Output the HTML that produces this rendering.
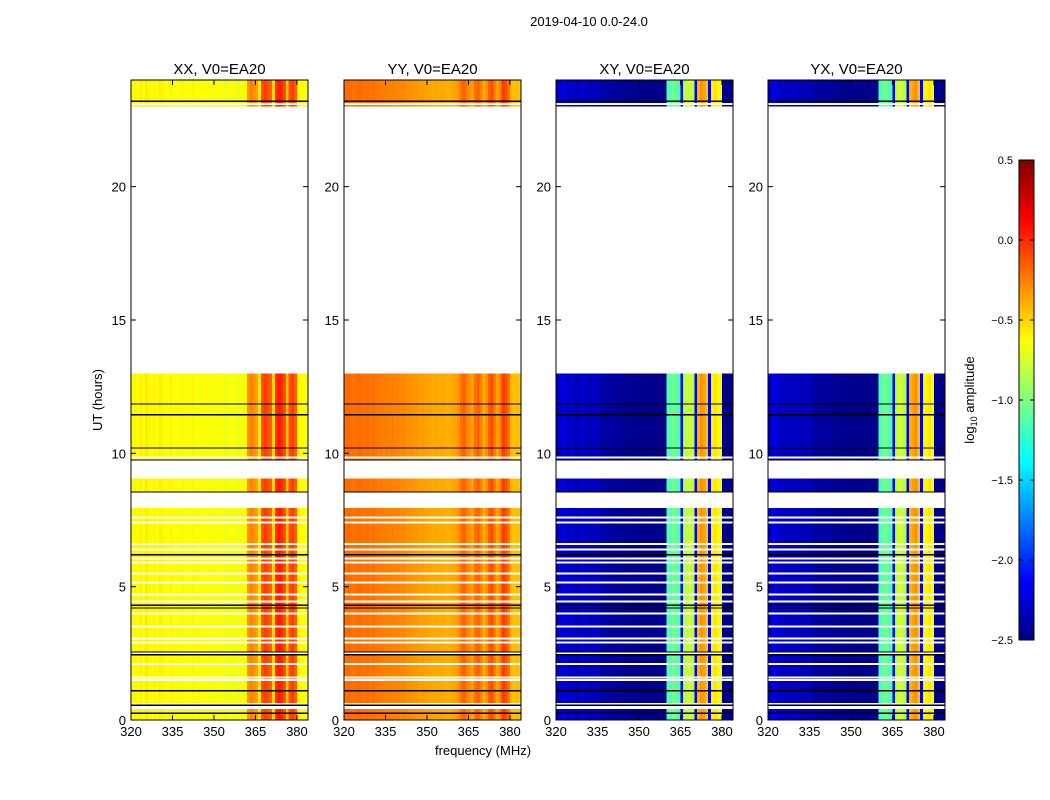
<!DOCTYPE html>
<html><head><meta charset="utf-8"><style>
body{margin:0;background:#fff;}
svg{display:block;font-family:"Liberation Sans",sans-serif;}
</style></head><body>
<svg id="fig" width="1050" height="800" xmlns="http://www.w3.org/2000/svg">
<rect width="1050" height="800" fill="#fff"/>
<text x="589" y="26" font-size="13" text-anchor="middle">2019-04-10 0.0-24.0</text>
<text x="483" y="755" font-size="13" text-anchor="middle">frequency (MHz)</text>
<text x="102" y="400" font-size="13" text-anchor="middle" transform="rotate(-90 102 400)">UT (hours)</text>
<g id="panels"></g>
<g id="cbar"></g>
</svg>
<script>
// ---- data ----
const panelTitles = ["XX, V0=EA20","YY, V0=EA20","XY, V0=EA20","YX, V0=EA20"];
const freqStart = 320; // MHz, 1 MHz channels
const xxProfile = [-0.62,-0.6,-0.64,-0.58,-0.62,-0.56,-0.6,-0.64,-0.6,-0.62,-0.58,-0.6,-0.65,-0.62,-0.6,-0.63,-0.66,-0.62,-0.6,-0.64,-0.65,-0.62,-0.6,-0.64,-0.66,-0.63,-0.65,-0.62,-0.64,-0.66,-0.65,-0.62,-0.64,-0.66,-0.68,-0.65,-0.64,-0.66,-0.68,-0.66,-0.65,-0.6,-0.3,-0.25,-0.3,-0.35,-0.55,-0.1,-0.05,-0.1,-0.15,-0.5,0.0,0.05,0.0,-0.1,-0.45,-0.1,-0.05,-0.15,-0.6,-0.62,-0.63,-0.62];
const yyProfile = [-0.2,-0.18,-0.2,-0.22,-0.2,-0.18,-0.2,-0.22,-0.2,-0.23,-0.2,-0.22,-0.24,-0.23,-0.25,-0.24,-0.26,-0.25,-0.27,-0.26,-0.28,-0.27,-0.29,-0.3,-0.3,-0.32,-0.32,-0.34,-0.33,-0.35,-0.35,-0.36,-0.37,-0.36,-0.38,-0.37,-0.38,-0.4,-0.38,-0.37,-0.35,-0.3,-0.2,-0.15,-0.25,-0.3,-0.35,-0.2,-0.15,-0.25,-0.4,-0.3,-0.15,-0.1,-0.25,-0.35,-0.25,-0.05,-0.1,-0.2,-0.4,-0.45,-0.42,-0.45];
const xyProfile = [-2.3,-2.25,-2.2,-2.28,-2.3,-2.25,-2.3,-2.35,-2.3,-2.25,-2.3,-2.32,-2.35,-2.3,-2.28,-2.35,-2.38,-2.4,-2.38,-2.4,-2.42,-2.4,-2.42,-2.44,-2.42,-2.45,-2.44,-2.45,-2.46,-2.45,-2.46,-2.45,-2.46,-2.47,-2.46,-2.47,-2.46,-2.47,-2.47,-2.46,-1.15,-1.1,-1.05,-1.1,-1.15,-2.2,-0.85,-0.8,-0.75,-0.85,-2.2,-0.4,-0.3,-0.35,-0.45,-2.2,-0.6,-0.55,-0.6,-0.65,-2.45,-2.47,-2.47,-2.47];
const yxProfile = [-2.3,-2.22,-2.2,-2.26,-2.3,-2.28,-2.3,-2.34,-2.3,-2.28,-2.32,-2.34,-2.35,-2.32,-2.3,-2.36,-2.38,-2.4,-2.4,-2.42,-2.42,-2.4,-2.42,-2.44,-2.44,-2.45,-2.44,-2.45,-2.46,-2.45,-2.46,-2.46,-2.46,-2.47,-2.46,-2.47,-2.46,-2.47,-2.47,-2.46,-1.15,-1.1,-1.05,-1.1,-1.15,-2.2,-0.85,-0.75,-0.8,-0.85,-2.2,-0.4,-0.35,-0.3,-0.45,-2.2,-0.6,-0.6,-0.55,-0.65,-2.45,-2.47,-2.47,-2.47];
const dataSegStart = [0.0,0.64,8.55,9.75,23.0];
const dataSegEnd = [0.41,7.95,9.05,13.0,24.0];
const whiteGaps = [7.6,7.4,6.6,6.4,6.05,5.9,5.5,5.15,4.7,4.45,4.0,3.5,3.05,2.9,2.5,2.1,1.6,1.5,9.85,23.1];
const blackLines = [23.2,11.85,11.45,10.2,9.75,8.55,6.2,4.3,4.2,2.55,2.45,1.1,0.55,0.25];
const xTicks = [320,335,350,365,380];
const yTicks = [0,5,10,15,20];
const cbTicks = [0.5,0.0,-0.5,-1.0,-1.5,-2.0,-2.5];
const cbTickLabels = ["0.5","0.0","\u22120.5","\u22121.0","\u22121.5","\u22122.0","\u22122.5"];
// ---- layout ----
const profiles=[xxProfile,yyProfile,xyProfile,yxProfile];
const panelX=[131,344,556,768], PW=177, PT=80, PB=720;
const fMin=320,fMax=384,vMin=-2.5,vMax=0.5;
const NS="http://www.w3.org/2000/svg";
function jet(v){let t=(v-vMin)/(vMax-vMin);t=Math.max(0,Math.min(1,t));
 const c=x=>Math.round(255*Math.max(0,Math.min(1,x)));
 const r=c(Math.min(4*t-1.5,-4*t+4.5)),g=c(Math.min(4*t-0.5,-4*t+3.5)),b=c(Math.min(4*t+0.5,-4*t+2.5));
 return `rgb(${r},${g},${b})`;}
function el(tag,attrs,parent){const e=document.createElementNS(NS,tag);for(const k in attrs)e.setAttribute(k,attrs[k]);parent.appendChild(e);return e;}
const yS=h=>PB-(h/24)*(PB-PT);
const root=document.getElementById('panels');
panelX.forEach((x0,p)=>{
 const xS=f=>x0+(f-fMin)/(fMax-fMin)*PW;
 const g=el('g',{},root);
 
 
 const hm=el('g',{'shape-rendering':'crispEdges'},g);
 
 
 dataSegStart.forEach((s,i)=>{
  const y1=yS(dataSegEnd[i]),y2=yS(s);
  profiles[p].forEach((v,c)=>{
   const r=el('rect',{x:xS(freqStart+c),y:y1,width:xS(freqStart+c+1)-xS(freqStart+c)+0.3,height:y2-y1,fill:jet(v)},hm);
   
   
  });
 });
 whiteGaps.forEach(h=>{const r=el('rect',{x:x0,y:yS(h)-1,width:PW,height:2,fill:'#fff'},hm);
  
  });
 blackLines.forEach(h=>{const l=el('line',{x1:x0,x2:x0+PW,y1:yS(h),y2:yS(h),stroke:'#000','stroke-width':1.2},hm);
  
  });
 const fr=el('rect',{x:x0,y:PT,width:PW,height:PB-PT,fill:'none',stroke:'#000','stroke-width':1},g);
 
 
 const t=el('text',{x:x0+PW/2,y:74,'font-size':15,'text-anchor':'middle'},g);t.textContent=panelTitles[p];
 
 
 xTicks.forEach(f=>{const x=xS(f);
  el('line',{x1:x,x2:x,y1:PB,y2:PB-5,stroke:'#000'},g);el('line',{x1:x,x2:x,y1:PT,y2:PT+5,stroke:'#000'},g);
  const tl=el('text',{x:x,y:PB+16,'font-size':13,'text-anchor':'middle'},g);tl.textContent=f;
  
  });
 yTicks.forEach(h=>{const y=yS(h);
  el('line',{x1:x0,x2:x0+5,y1:y,y2:y,stroke:'#000'},g);el('line',{x1:x0+PW,x2:x0+PW-5,y1:y,y2:y,stroke:'#000'},g);
  const tl=el('text',{x:x0-5,y:y+5,'font-size':13,'text-anchor':'end'},g);tl.textContent=h;
  
  });
});
// colorbar
const cb=document.getElementById('cbar');


const cX=1019,cW=15,cT=160,cB=640;
const cyS=v=>cB-(v-vMin)/(vMax-vMin)*(cB-cT);
for(let i=0;i<240;i++){const v=vMin+(i+0.5)/240*(vMax-vMin);
 el('rect',{x:cX,y:cB-(i+1)*2,width:cW,height:2.3,fill:jet(v),'shape-rendering':'crispEdges'},cb);}
el('rect',{x:cX,y:cT,width:cW,height:cB-cT,fill:'none',stroke:'#000'},cb);
cbTicks.forEach((v,i)=>{const y=cyS(v);
 el('line',{x1:cX,x2:cX+4,y1:y,y2:y,stroke:'#000'},cb);el('line',{x1:cX+cW,x2:cX+cW-4,y1:y,y2:y,stroke:'#000'},cb);
 const t=el('text',{x:1013,y:y+4,'font-size':11,'text-anchor':'end'},cb);t.textContent=cbTickLabels[i];
 
 });
const cl=el('text',{x:974,y:400,'font-size':13,'text-anchor':'middle',transform:'rotate(-90 974 400)'},cb);
cl.innerHTML='log<tspan font-size="9" dy="3">10</tspan><tspan dy="-3"> amplitude</tspan>';


</script>
</body></html>
